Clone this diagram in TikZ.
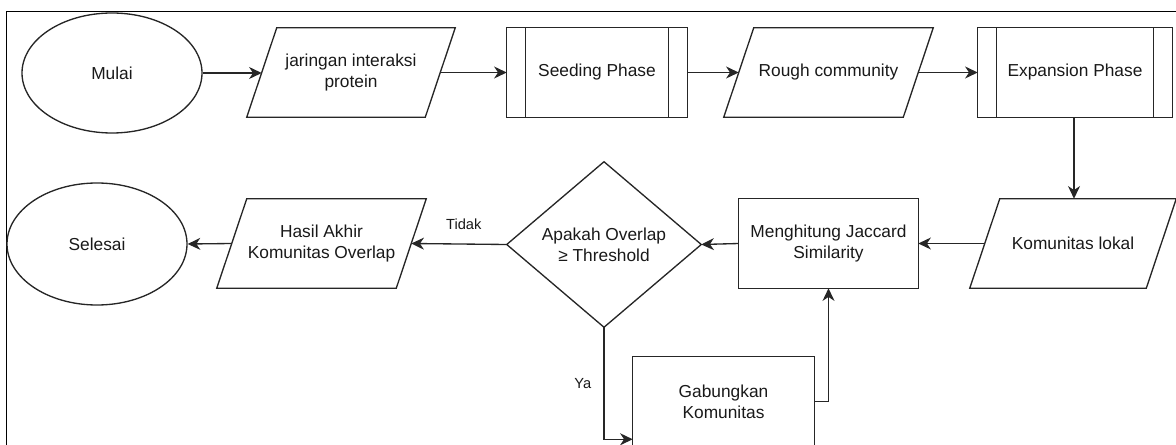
\documentclass[tikz,border=0pt]{standalone}
\usepackage{fontspec}
\setmainfont{Liberation Sans}
\usetikzlibrary{calc,arrows.meta,shapes.geometric}
\newcommand{\drawpara}[1]{\draw[ln] (#1.south west) -- ($(#1.north west)+(30,0)$) -- (#1.north east) -- ($(#1.south east)+(-30,0)$) -- cycle;}
\newcommand{\drawpredef}[1]{\draw[ln] (#1.north west) rectangle (#1.south east);
  \draw[ln] ($(#1.north west)+(19,0)$) -- ($(#1.south west)+(19,0)$);
  \draw[ln] ($(#1.north east)+(-19,0)$) -- ($(#1.south east)+(-19,0)$);}
\begin{document}
\begin{tikzpicture}[x=0.75pt,y=-0.75pt,
  every node/.style={font=\fontsize{13}{15.7}\selectfont, text=black!90, align=center, inner sep=0pt},
  ln/.style={draw=black!85, line width=1pt},
  arr/.style={ln, -{Stealth[length=9.5pt,width=9pt,inset=3pt]}},
  ghost/.style={rectangle, minimum height=66.75pt},
  oval/.style={ln, ellipse, minimum width=135pt},
  lab/.style={font=\fontsize{11}{13}\selectfont}
]
\useasboundingbox (0,0) rectangle (1176,445);
\clip (0,0) rectangle (1176,445);
% frame
\draw[black, line width=1.2pt] (6.5,450) -- (6.5,11.5) -- (1180,11.5);

% nodes
\node[oval, minimum height=90pt] (mulai) at (112,73) {Mulai};
\node[ghost, minimum width=156pt] (jar) at (351,72.5) {jaringan interaksi\\protein};
\node[ghost, minimum width=135pt] (seed) at (597,72.5) {Seeding Phase};
\node[ghost, minimum width=156.75pt] (rough) at (828.5,72.5) {Rough community};
\node[ghost, minimum width=145.5pt] (exp) at (1075,72.5) {Expansion Phase};
\node[ghost, minimum width=154.5pt] (kom) at (1073,243.5) {Komunitas lokal};
\node[ghost, minimum width=134.25pt] (jac) at (828.5,243.5) {Menghitung Jaccard\\Similarity};
\node[rectangle, minimum width=145.5pt, minimum height=123.75pt] (dia) at (604,244.5) {Apakah Overlap\\≥ Threshold};
\node[ghost, minimum width=156.75pt] (hasil) at (321.5,243.5) {Hasil Akhir\\Komunitas Overlap};
\node[oval, minimum height=91.5pt] (sel) at (97,244) {Selesai};
\node[ghost, minimum width=135.75pt] (gab) at (723.5,401.5) {Gabungkan\\Komunitas};

% shapes drawn by hand
\drawpara{jar}
\drawpara{rough}
\drawpara{kom}
\drawpara{hasil}
\drawpredef{seed}
\drawpredef{exp}
\draw[ln] (jac.north west) rectangle (jac.south east);
\draw[ln] (gab.north west) rectangle (gab.south east);
\draw[ln] (dia.north) -- (dia.east) -- (dia.south) -- (dia.west) -- cycle;

% connectors
\draw[arr] (mulai.east) -- ($(jar.west)+(15,0.5)$);
\draw[arr] ($(jar.east)+(-15,0)$) -- (seed.west);
\draw[arr] (seed.east) -- ($(rough.west)+(15,0)$);
\draw[arr] ($(rough.east)+(-15,0)$) -- (exp.west);
\draw[arr] ($(exp.south)+(-1,0)$) -- ($(exp.south |- kom.north)+(-1,0)$);
\draw[arr] ($(kom.west)+(15,0)$) -- (jac.east);
\draw[arr] (jac.west) -- (dia.east);
\draw[arr] (dia.west) -- ($(hasil.east)+(-15,0)$) node[lab, pos=0.45, above=10pt] {Tidak};
\draw[arr] ($(hasil.west)+(15,0)$) -- (sel.east);
\draw[arr] (dia.south) |- ($(gab.south west)+(0,-7)$) node[lab, pos=0.25, left=9pt] {Ya};
\draw[arr] (gab.east) -| (jac.south);
\end{tikzpicture}
\end{document}
